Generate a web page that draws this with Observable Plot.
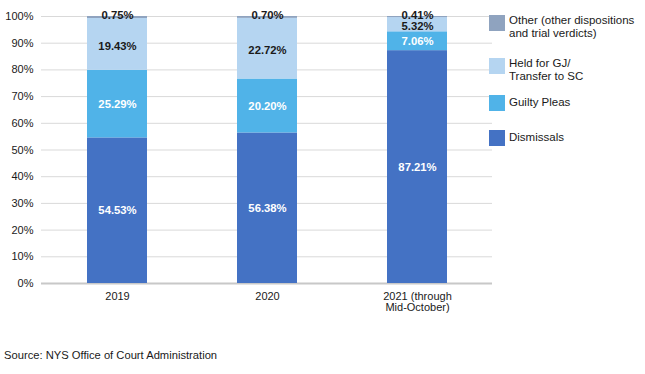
<!DOCTYPE html>
<html>
<head>
<meta charset="utf-8">
<script src="https://cdn.jsdelivr.net/npm/d3@7"></script>
<script src="https://cdn.jsdelivr.net/npm/@observablehq/plot@0.6"></script>
<style>
  html, body { margin: 0; padding: 0; background: #fff; }
  body { font-family: "Liberation Sans", Arial, sans-serif; color: #1a1a1a; }
  #wrap { position: relative; width: 645px; height: 374px; overflow: hidden; }
  #chart { position: absolute; left: 0; top: 0; }
  .legend { position: absolute; left: 489px; top: 0; font-size: 11.5px; line-height: 13px; color: #1a1a1a; }
  .item { position: absolute; left: 0; white-space: nowrap; }
  .sw { position: absolute; left: 0; width: 16px; height: 16px; }
  .lab { position: absolute; left: 20px; }
  #source { position: absolute; left: 4px; top: 349px; font-size: 11.2px; color: #1a1a1a; }
</style>
</head>
<body>
<div id="wrap">
  <div id="chart"></div>
  <div class="legend" id="legend"></div>
  <div id="source">Source: NYS Office of Court Administration</div>
</div>
<script>
const years = ["2019", "2020", "2021 (through\nMid-October)"];
const categories = ["Dismissals", "Guilty Pleas", "Held for GJ/\nTransfer to SC", "Other (other dispositions\nand trial verdicts)"];
const colors = ["#4472C4", "#50B3E8", "#B5D5F1", "#8FA3BF"];
const dismissals = [54.53, 56.38, 87.21];
const guiltyPleas = [25.29, 20.20, 7.06];
const heldForGJ = [19.43, 22.72, 5.32];
const other = [0.75, 0.70, 0.41];
const yTicks = [0, 10, 20, 30, 40, 50, 60, 70, 80, 90, 100];

const series = [dismissals, guiltyPleas, heldForGJ, other];
const data = [];
years.forEach((yr, i) => {
  categories.forEach((c, j) => {
    data.push({year: yr, category: c, value: series[j][i]});
  });
});

const fmt = v => v.toFixed(2) + "%";
const base = {x: "year", y: "value", z: "category", order: categories, text: d => fmt(d.value), fontWeight: "bold", fontSize: 11.3};
const is = c => d => d.category === c;

const chart = Plot.plot({
  width: 645,
  height: 330,
  marginLeft: 41,
  marginRight: 153,
  marginTop: 16,
  marginBottom: 47,
  style: {fontFamily: "Liberation Sans, Arial, sans-serif", fontSize: "11px", color: "#1a1a1a", background: "white"},
  x: {domain: years, paddingInner: 0.6, paddingOuter: 0.3, label: null, tickSize: 0, tickPadding: 9},
  y: {domain: [0, 100], ticks: yTicks, tickFormat: d => d + "%", label: null, tickSize: 0, tickPadding: 8},
  color: {domain: categories, range: colors},
  marks: [
    Plot.gridY(yTicks.filter(t => t > 0), {stroke: "#d9d9d9", strokeOpacity: 1, strokeWidth: 1}),
    Plot.ruleY([0], {stroke: "#c8c8c8", strokeWidth: 2}),
    Plot.barY(data, Plot.stackY({x: "year", y: "value", fill: "category", order: categories})),
    Plot.text(data, Plot.filter(is(categories[0]), Plot.stackY({...base, fill: "white"}))),
    Plot.text(data, Plot.filter(is(categories[1]), Plot.stackY({...base, fill: "white"}))),
    Plot.text(data, Plot.filter(is(categories[2]), Plot.stackY({...base, fill: "#1a1a1a", dy: 2}))),
    Plot.text(data, Plot.filter(is(categories[3]), Plot.stackY2({...base, fill: "#1a1a1a", dy: -1})))
  ]
});
document.getElementById("chart").appendChild(chart);

// legend (right side), top to bottom: Other, Held, Guilty, Dismissals
const legendTops = [130, 95, 58, 15];
const legend = document.getElementById("legend");
categories.forEach((c, j) => {
  const item = document.createElement("div");
  item.className = "item";
  item.style.top = legendTops[j] + "px";
  const sw = document.createElement("div");
  sw.className = "sw";
  sw.style.background = colors[j];
  const lab = document.createElement("div");
  lab.className = "lab";
  lab.style.top = (c.includes("\n") ? "-1px" : "1px");
  lab.innerHTML = c.replace("\n", "<br>");
  item.appendChild(sw);
  item.appendChild(lab);
  legend.appendChild(item);
});
</script>
</body>
</html>
